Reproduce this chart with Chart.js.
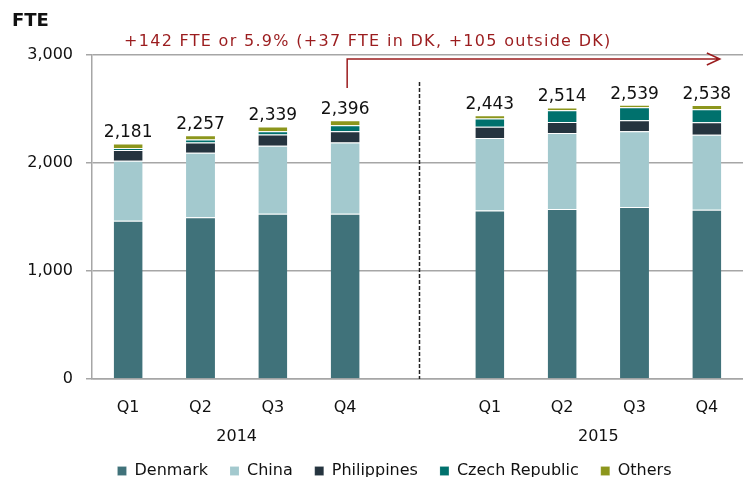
<!DOCTYPE html>
<html>
<head>
<meta charset="utf-8">
<script src="https://cdn.jsdelivr.net/npm/chart.js@4.4.1/dist/chart.umd.min.js"></script>
<style>
  html, body { margin: 0; padding: 0; background: #fff; overflow: hidden; }
  #wrap { position: relative; width: 743px; height: 489px; }
</style>
</head>
<body>
<div id="wrap"><canvas id="fte-chart"></canvas></div>
<script>
// quarters, with an empty slot between the two years
const quarters = ["Q1", "Q2", "Q3", "Q4", "", "Q1", "Q2", "Q3", "Q4"];
const years = ["2014", "2015"];

const denmark     = [1465, 1498, 1530, 1530, null, 1561, 1573, 1592, 1567];
const china       = [ 555,  598,  629,  660, null,  670,  704,  701,  695];
const philippines = [ 100,   94,  106,  103, null,  105,  103,  103,  115];
const czech       = [  17,   28,   28,   56, null,   75,  109,  121,  121];
const others      = [  44,   39,   46,   47, null,   32,   25,   22,   40];

const totals = [2181, 2257, 2339, 2396, null, 2443, 2514, 2539, 2538];
const yTicks = [0, 1000, 2000, 3000];

const note = "+142 FTE or 5.9% (+37 FTE in DK, +105 outside DK)";
const red = "#9b1c1e";

Chart.defaults.font.family = "'DejaVu Sans', Verdana, sans-serif";
Chart.defaults.font.size = 16;
Chart.defaults.color = "#111";

// totals, year labels, divider and arrow
const extras = {
  id: "extras",
  beforeDraw(chart) {
    // legend in the reference sits a bit right of the page centre
    if (chart.legend) chart.legend.left = 46;
  },
  afterDatasetsDraw(chart) {
    const ctx = chart.ctx;
    const x = chart.scales.x;
    const y = chart.scales.y;
    const area = chart.chartArea;
    ctx.save();

    ctx.fillStyle = "#111";
    ctx.font = "17px 'DejaVu Sans'";
    ctx.textAlign = "center";
    ctx.textBaseline = "alphabetic";
    totals.forEach((t, i) => {
      if (t == null) return;
      ctx.fillText(t.toLocaleString("en-US"), x.getPixelForValue(i), y.getPixelForValue(t) - 6);
    });

    ctx.font = "16px 'DejaVu Sans'";
    ctx.textBaseline = "middle";
    ctx.fillText(years[0], (x.getPixelForValue(0) + x.getPixelForValue(3)) / 2, 437);
    ctx.fillText(years[1], (x.getPixelForValue(5) + x.getPixelForValue(8)) / 2, 437);

    ctx.font = "bold 18px 'DejaVu Sans'";
    ctx.textAlign = "left";
    ctx.fillText("FTE", 12, 21);

    // dashed divider between the years
    const xd = x.getPixelForValue(4) + 2;
    ctx.strokeStyle = "#222";
    ctx.lineWidth = 1.5;
    ctx.setLineDash([4, 2]);
    ctx.beginPath();
    ctx.moveTo(xd, 82);
    ctx.lineTo(xd, area.bottom);
    ctx.stroke();
    ctx.setLineDash([]);

    // arrow from Q4 2014 to Q4 2015
    const x0 = x.getPixelForValue(3) + 2;
    const x1 = x.getPixelForValue(8) + 13;
    const yTop = 59;
    ctx.strokeStyle = red;
    ctx.lineWidth = 1.5;
    ctx.beginPath();
    ctx.moveTo(x0, 88);
    ctx.lineTo(x0, yTop);
    ctx.lineTo(x1, yTop);
    ctx.moveTo(x1 - 13, yTop - 6);
    ctx.lineTo(x1, yTop);
    ctx.lineTo(x1 - 13, yTop + 6);
    ctx.stroke();

    ctx.fillStyle = red;
    ctx.font = "16px 'DejaVu Sans'";
    ctx.letterSpacing = "1.3px";
    ctx.textBaseline = "middle";
    ctx.fillText(note, 124, 42);

    ctx.restore();
  }
};

function ds(label, data, color) {
  return {
    label: label,
    data: data,
    backgroundColor: color,
    borderColor: "rgba(255,255,255,0.55)",
    borderWidth: { top: 1 },
    borderSkipped: false,
    categoryPercentage: 1,
    barPercentage: 0.4
  };
}

new Chart(document.getElementById("fte-chart"), {
  type: "bar",
  data: {
    labels: quarters,
    datasets: [
      ds("Denmark", denmark, "#40727a"),
      ds("China", china, "#a3c9ce"),
      ds("Philippines", philippines, "#25343f"),
      ds("Czech Republic", czech, "#00716d"),
      ds("Others", others, "#8c961c")
    ]
  },
  options: {
    responsive: true,
    maintainAspectRatio: false,
    animation: false,
    layout: { padding: { top: 55, left: 0, right: 0, bottom: 0 } },
    plugins: {
      legend: {
        position: "bottom",
        labels: {
          boxWidth: 9,
          boxHeight: 9,
          padding: 22,
          font: { size: 16 },
          color: "#111"
        }
      },
      tooltip: { enabled: false }
    },
    scales: {
      x: {
        stacked: true,
        grid: { display: false, drawTicks: false },
        border: { color: "#a6a6a6", width: 1.5 },
        ticks: { padding: 19, font: { size: 16 }, color: "#111" },
        afterFit(scale) { scale.height = 62; }
      },
      y: {
        stacked: true,
        min: 0,
        max: 3000,
        afterBuildTicks(scale) { scale.ticks = yTicks.map(v => ({ value: v })); },
        grid: { color: "#a6a6a6", lineWidth: 1.5, tickLength: 6, tickColor: "#a6a6a6" },
        border: { color: "#a6a6a6", width: 1.5 },
        ticks: {
          padding: 13,
          font: { size: 16 },
          color: "#111",
          callback: v => v.toLocaleString("en-US")
        },
        afterFit(scale) { scale.width = 92; }
      }
    }
  },
  plugins: [extras]
});
</script>
</body>
</html>
